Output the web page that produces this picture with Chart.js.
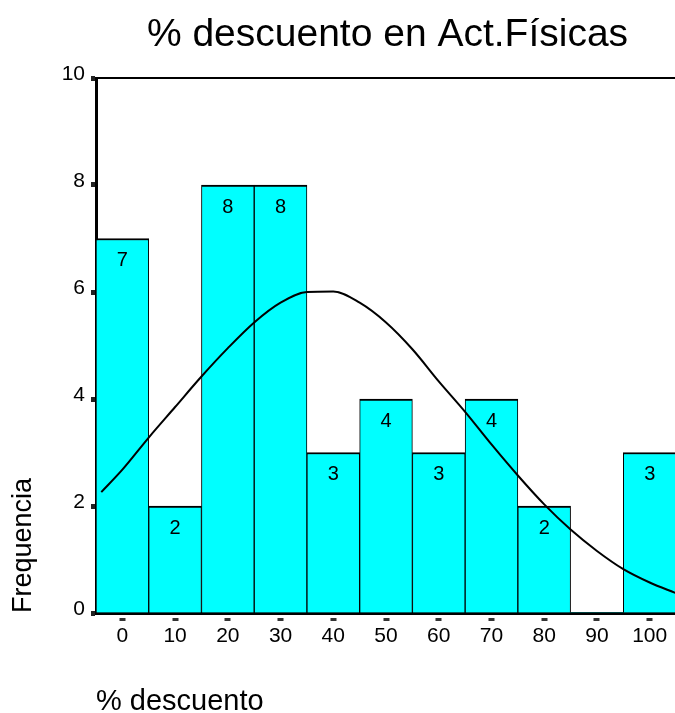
<!DOCTYPE html>
<html>
<head>
<meta charset="utf-8">
<script src="https://cdn.jsdelivr.net/npm/chart.js@4/dist/chart.umd.min.js"></script>
<style>
  html, body { margin: 0; padding: 0; background: #ffffff; }
  #wrap { width: 675px; height: 713px; position: relative; }
</style>
</head>
<body>
<div id="wrap"><canvas id="c" width="675" height="713"></canvas></div>
<script>
// ---- data ----
const chartTitle = "% descuento en Act.Físicas";
const xAxisTitle = "% descuento";
const yAxisTitle = "Frequencia";
const categories = [0, 10, 20, 30, 40, 50, 60, 70, 80, 90, 100];
const frequencies = [7, 2, 8, 8, 3, 4, 3, 4, 2, 0, 3];
const yTicks = [0, 2, 4, 6, 8, 10];
// normal curve
const curveX = [-4, 0, 5, 10, 15, 20, 25, 30, 35, 40, 45, 50, 55, 60, 65, 70, 75, 80, 85, 90, 95, 100, 105];
const curveY = [2.26, 2.68, 3.28, 3.85, 4.42, 4.95, 5.43, 5.80, 6.00, 6.01, 5.80, 5.43, 4.93, 4.33, 3.76, 3.15, 2.57, 2.03, 1.56, 1.16, 0.82, 0.57, 0.37];

const FONT = "'Liberation Sans', Arial, sans-serif";

const barData = categories.map((c, i) => ({ x: c, y: frequencies[i] }));
const curveData = curveX.map((x, i) => ({ x: x, y: curveY[i] }));

const labelPlugin = {
  id: 'barLabels',
  afterDatasetsDraw(chart) {
    const ctx = chart.ctx;
    const meta = chart.getDatasetMeta(1);
    ctx.save();
    ctx.fillStyle = '#000';
    ctx.font = '20px ' + FONT;
    ctx.textAlign = 'center';
    ctx.textBaseline = 'middle';
    meta.data.forEach((el, i) => {
      const v = frequencies[i];
      if (!v) return;
      ctx.fillText(String(v), el.x, el.y + 22);
    });
    ctx.restore();
  }
};

const titlePlugin = {
  id: 'plotTitle',
  afterDraw(chart) {
    const ctx = chart.ctx;
    const a = chart.chartArea;
    ctx.save();
    ctx.fillStyle = '#000';
    ctx.font = '39px ' + FONT;
    ctx.textAlign = 'center';
    ctx.textBaseline = 'alphabetic';
    ctx.fillText(chartTitle, (a.left + a.right) / 2 + 2, 46);
    ctx.restore();
  }
};

new Chart(document.getElementById('c'), {
  type: 'bar',
  data: {
    datasets: [
      {
        type: 'line',
        data: curveData,
        borderColor: '#000',
        borderWidth: 2,
        pointRadius: 0,
        cubicInterpolationMode: 'monotone',
        fill: false,
        order: 0,
        xAxisID: 'x',
        yAxisID: 'y'
      },
      {
        type: 'bar',
        data: barData,
        backgroundColor: '#00FFFF',
        borderColor: '#000',
        borderWidth: (ctx) => (ctx.raw && ctx.raw.y ? { top: 2, left: 1, right: 1, bottom: 0 } : 0),
        borderSkipped: false,
        barPercentage: 1,
        categoryPercentage: 1,
        order: 1,
        xAxisID: 'x',
        yAxisID: 'y'
      }
    ]
  },
  options: {
    responsive: false,
    animation: false,
    devicePixelRatio: 1,
    layout: { padding: { top: 78, left: 0, right: 0, bottom: 0 } },
    plugins: {
      legend: { display: false },
      tooltip: { enabled: false },
      title: { display: false }
    },
    scales: {
      x: {
        type: 'linear',
        position: 'bottom',
        min: -5,
        max: 104.8,
        offset: false,
        afterBuildTicks(scale) { scale.ticks = categories.map(v => ({ value: v })); },
        afterFit(scale) { scale.height = 100; },
        grid: {
          display: true,
          drawOnChartArea: false,
          drawTicks: true,
          offset: false,
          tickLength: 8,
          tickWidth: 6,
          tickColor: '#333',
          tickBorderDash: [0, 3, 4, 50]
        },
        border: { display: true, color: '#000', width: 3 },
        ticks: {
          color: '#000',
          font: { family: FONT, size: 21 },
          padding: 3,
          maxRotation: 0,
          autoSkip: false
        },
        title: {
          display: true,
          text: xAxisTitle,
          align: 'start',
          color: '#000',
          font: { family: FONT, size: 29, lineHeight: 0.74 },
          padding: 0
        }
      },
      xTop: {
        type: 'linear',
        position: 'top',
        min: -5,
        max: 104.8,
        afterFit(scale) { scale.height = 0; },
        grid: { display: false },
        ticks: { display: false },
        border: { display: true, color: '#000', width: 2 }
      },
      y: {
        type: 'linear',
        position: 'left',
        min: 0,
        max: 10,
        afterBuildTicks(scale) { scale.ticks = yTicks.map(v => ({ value: v })); },
        afterFit(scale) { scale.width = 96; },
        grid: {
          display: true,
          drawOnChartArea: false,
          drawTicks: true,
          tickLength: 5,
          tickWidth: 5,
          tickColor: '#222'
        },
        border: { display: true, color: '#000', width: 3 },
        ticks: {
          color: '#000',
          font: { family: FONT, size: 21 },
          padding: 6,
          labelOffset: -4
        },
        title: {
          display: true,
          text: yAxisTitle,
          align: 'start',
          color: '#000',
          font: { family: FONT, size: 27, lineHeight: 1.2 },
          padding: { top: 7, bottom: 0 }
        }
      }
    }
  },
  plugins: [labelPlugin, titlePlugin]
});
</script>
</body>
</html>
